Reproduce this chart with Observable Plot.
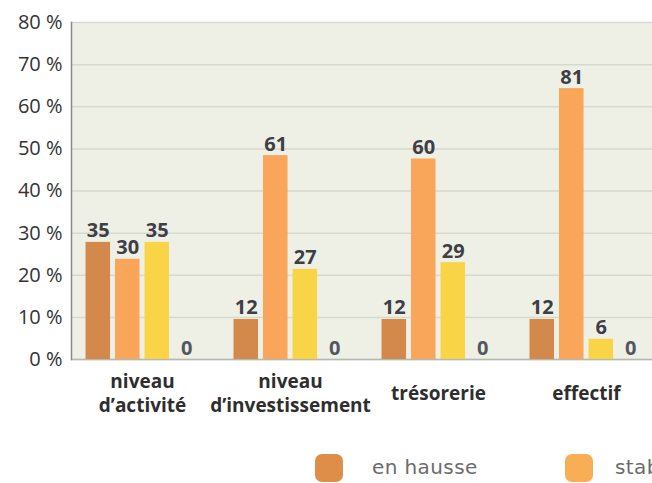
<!DOCTYPE html>
<html>
<head>
<meta charset="utf-8">
<script src="https://cdn.jsdelivr.net/npm/d3@7"></script>
<script src="https://cdn.jsdelivr.net/npm/@observablehq/plot@0.6"></script>
<style>
  html, body { margin: 0; padding: 0; background: #fff; }
  #wrap { width: 652px; height: 483px; position: relative; overflow: hidden; }
  #legend { position: absolute; left: 0; top: 0; width: 652px; height: 483px; pointer-events: none; }
  .sw { position: absolute; top: 454px; width: 28px; height: 28px; border-radius: 7px; }
  .lt { position: absolute; top: 455px; font-family: "DejaVu Sans", sans-serif; font-size: 20px; color: #6b6b6b; letter-spacing: 0.4px; white-space: nowrap; }
</style>
</head>
<body>
<div id="wrap">
  <div id="chart"></div>
  <div id="legend"></div>
</div>
<script>
const categories = ["niveau d'activité", "niveau d'investissement", "trésorerie", "effectif"];
const categoryLabels = ["niveau\nd’activité", "niveau\nd’investissement", "trésorerie", "effectif"];
const seriesNames = ["en hausse", "stable", "en baisse", "ne sait pas"];
// bar heights (%)
const pctHausse = [27.8, 9.5, 9.5, 9.5];
const pctStable = [23.8, 48.4, 47.6, 64.3];
const pctBaisse = [27.8, 21.4, 23.0, 4.8];
const pctNsp = [0, 0, 0, 0];
// value labels printed above the bars
const cntHausse = [35, 12, 12, 12];
const cntStable = [30, 61, 60, 81];
const cntBaisse = [35, 27, 29, 6];
const cntNsp = [0, 0, 0, 0];
const yTicks = [0, 10, 20, 30, 40, 50, 60, 70, 80];
const colors = ["#d4894c", "#f9a65b", "#f9d447", "#e8e8e8"];
const legendColors = ["#de8e48", "#f9ae56"];

const pcts = [pctHausse, pctStable, pctBaisse, pctNsp];
const cnts = [cntHausse, cntStable, cntBaisse, cntNsp];
const rows = [];
seriesNames.forEach((s, i) => categories.forEach((c, j) => rows.push({cat: c, series: s, si: i, pct: pcts[i][j], cnt: cnts[i][j]})));

const bw = 117.96, barW = 24.5, step = 29.5, off = 2.5;
const barMarks = [];
const textMarks = [];
seriesNames.forEach((s, i) => {
  const data = rows.filter(r => r.si === i);
  const left = off + i * step;
  if (i < 3) {
    barMarks.push(Plot.barY(data, {x: "cat", y: "pct", fill: colors[i], insetLeft: left, insetRight: bw - left - barW}));
  }
  textMarks.push(Plot.text(data, {x: "cat", y: "pct", text: d => String(d.cnt), dx: left + barW / 2 - bw / 2, dy: -5, lineAnchor: "bottom", fontSize: 20, fontWeight: "bold", fill: i === 3 ? "#55555c" : "#3e3e46"}));
});

const chart = Plot.plot({
  width: 652,
  height: 420,
  marginLeft: 71,
  marginRight: 0,
  marginTop: 22,
  marginBottom: 61,
  style: {fontFamily: "'Open Sans', sans-serif", background: "transparent"},
  x: {type: "band", domain: categories, paddingInner: 0.203, paddingOuter: 0.0643, align: 0.605, axis: null},
  y: {domain: [0, 80], axis: null},
  marks: [
    Plot.frame({fill: "#eef0e6", stroke: null}),
    Plot.gridY(yTicks, {stroke: "#d6d9cd", strokeOpacity: 1, strokeWidth: 1.5}),
    Plot.ruleY([0], {stroke: "#b5b8ae", strokeWidth: 1.5}),
    ...barMarks,
    ...textMarks,
    Plot.frame({anchor: "left", stroke: "#8a8a8a", strokeWidth: 1.5}),
    Plot.axisY(yTicks, {tickSize: 0, tickPadding: 9, tickFormat: d => d + " %", fontSize: 20, fill: "#333", label: null}),
    Plot.text(categories, {x: d => d, text: (d, i) => categoryLabels[i], frameAnchor: "bottom", dy: 33, lineAnchor: "middle", lineHeight: 1.22, fontSize: 19, fontWeight: "bold", fill: "#2e2e2e"})
  ]
});
document.getElementById("chart").appendChild(chart);

const legend = document.getElementById("legend");
const swLeft = [315, 565];
const txLeft = [372, 615];
[0, 1].forEach(i => {
  const sw = document.createElement("div");
  sw.className = "sw";
  sw.style.left = swLeft[i] + "px";
  sw.style.background = legendColors[i];
  legend.appendChild(sw);
  const t = document.createElement("div");
  t.className = "lt";
  t.style.left = txLeft[i] + "px";
  t.textContent = seriesNames[i];
  legend.appendChild(t);
});
</script>
</body>
</html>
